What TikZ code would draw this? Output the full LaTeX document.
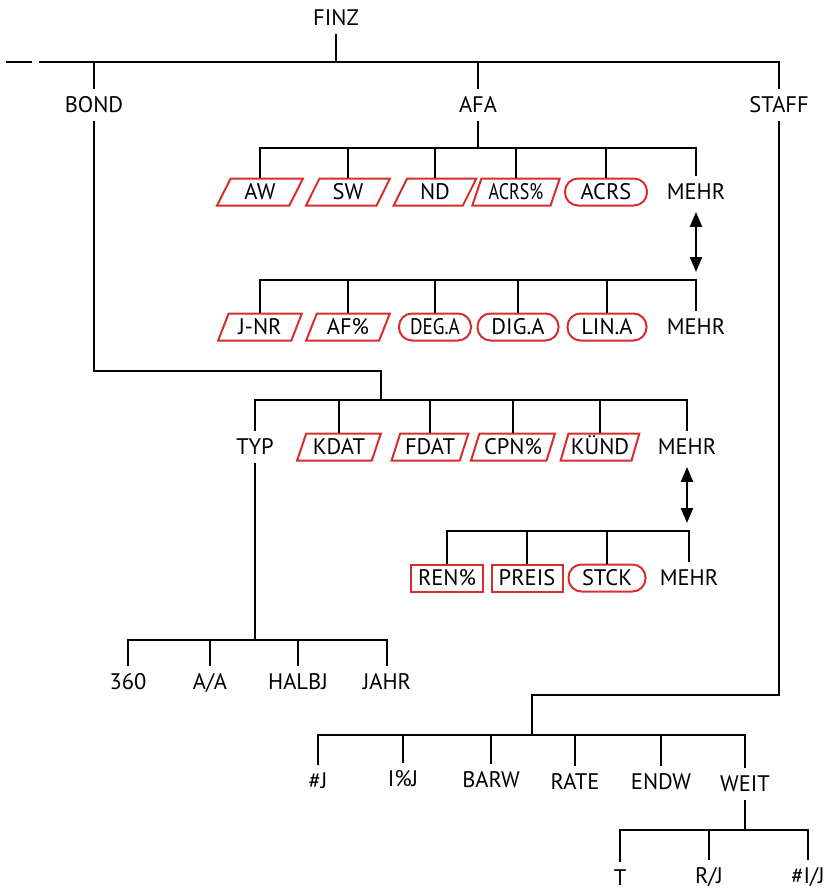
\documentclass[tikz,border=0pt]{standalone}
\usepackage{fontspec}
\setmainfont{PT Sans}
\usetikzlibrary{shapes.geometric,arrows.meta}
\definecolor{boxred}{RGB}{214,45,45}
\begin{document}
\begin{tikzpicture}[x=1pt,y=-1pt,
  txt/.style={font=\fontsize{22.5}{24}\selectfont, text height=15.5pt, text depth=0pt},
  lbl/.style={txt, inner xsep=0pt, inner ysep=8pt},
  boxbase/.style={txt, draw=boxred, line width=2pt, inner sep=0pt, minimum height=27pt},
  para/.style={boxbase, trapezium, trapezium left angle=65, trapezium right angle=115,
     trapezium stretches=true, minimum width=#1},
  rbox/.style={boxbase, rectangle, rounded corners=13pt, minimum width=#1},
  sbox/.style={boxbase, rectangle, minimum width=#1},
  conn/.style={draw=black, line width=2.2pt},
  dbl/.style={conn, {Triangle[width=12pt,length=15pt]}-{Triangle[width=12pt,length=15pt]}}
]
\useasboundingbox (0,0) rectangle (828,892);

% level coordinates
\coordinate (ymain) at (0,62);
\coordinate (y1) at (0,148);
\coordinate (y2) at (0,280);
\coordinate (ybond) at (0,371);
\coordinate (y3) at (0,400);
\coordinate (y4) at (0,531);
\coordinate (ytyp) at (0,640);
\coordinate (ystaff) at (0,695);
\coordinate (y5) at (0,735);
\coordinate (y6) at (0,830);

% top
\node[lbl] (finz) at (336,18) {FINZ};
\coordinate (dashA) at (6,62);
\coordinate (dashB) at (32,62);
\coordinate (mainL) at (39,62);
\node[lbl] (bond) at (94,105) {BOND};
\node[lbl] (afa) at (478,105) {AFA};
\node[lbl] (staff) at (779,105) {STAFF};

\draw[conn] (dashA) -- (dashB);
\draw[conn] (mainL) -- (staff |- ymain) -- (staff);
\draw[conn] (finz) -- (finz |- ymain);
\draw[conn] (bond |- ymain) -- (bond);
\draw[conn] (afa |- ymain) -- (afa);

% AFA menu row 1
\node[para=86pt] (aw) at (260,192) {AW};
\node[para=84pt] (sw) at (348,192) {SW};
\node[para=83pt] (nd) at (435,192) {ND};
\node[para=88pt] (acrsp) at (516,192) {\scalebox{0.8}[1]{ACRS\%}};
\node[rbox=82pt] (acrs) at (606,192) {ACRS};
\node[lbl] (mehrA) at (696,192) {MEHR};
\draw[conn] (afa) -- (afa |- y1);
\draw[conn] (aw) -- (aw |- y1) -- (mehrA |- y1) -- (mehrA);
\foreach \n in {sw,nd,acrsp,acrs} \draw[conn] (\n |- y1) -- (\n);

% AFA menu row 2
\node[para=84pt] (jnr) at (260,327) {J-NR};
\node[para=84pt] (afp) at (348,327) {AF\%};
\node[rbox=72pt] (dega) at (435,327) {\scalebox{0.85}[1]{DEG.A}};
\node[rbox=81pt] (diga) at (518,327) {DIG.A};
\node[rbox=79pt] (lina) at (607,327) {LIN.A};
\node[lbl] (mehrB) at (696,327) {MEHR};
\draw[conn] (jnr) -- (jnr |- y2) -- (mehrB |- y2) -- (mehrB);
\foreach \n in {afp,dega,diga,lina} \draw[conn] (\n |- y2) -- (\n);
\coordinate (arr1) at (696,272);
\draw[dbl, shorten <=4pt] (mehrA) -- (arr1);

% BOND menu
\coordinate (bondturn) at (381,371);
\draw[conn] (bond) -- (bond |- ybond) -- (bondturn) -- (bondturn |- y3);
\node[lbl] (typ) at (255,447) {TYP};
\node[para=84pt] (kdat) at (339,447) {KDAT};
\node[para=77pt] (fdat) at (430,447) {FDAT};
\node[para=84pt] (cpn) at (513,447) {CPN\%};
\node[para=79pt] (kuend) at (600,447) {KÜND};
\node[lbl] (mehrC) at (687,447) {MEHR};
\draw[conn] (typ) -- (typ |- y3) -- (mehrC |- y3) -- (mehrC);
\foreach \n in {kdat,fdat,cpn,kuend} \draw[conn] (\n |- y3) -- (\n);

\node[sbox=72pt] (ren) at (447,578) {REN\%};
\node[sbox=71pt] (preis) at (527,578) {PREIS};
\node[rbox=77pt] (stck) at (607,578) {STCK};
\node[lbl] (mehrD) at (689,578) {MEHR};
\draw[conn] (ren) -- (ren |- y4) -- (mehrD |- y4) -- (mehrD);
\foreach \n in {preis,stck} \draw[conn] (\n |- y4) -- (\n);
\coordinate (arr2) at (687,523);
\draw[dbl, shorten <=4pt] (mehrC) -- (arr2);

% TYP menu
\node[lbl] (t360) at (128,682) {360};
\node[lbl] (aa) at (210,682) {A/A};
\node[lbl] (halbj) at (298,682) {HALBJ};
\node[lbl] (jahr) at (387,682) {JAHR};
\draw[conn] (typ) -- (typ |- ytyp);
\draw[conn] (t360) -- (t360 |- ytyp) -- (jahr |- ytyp) -- (jahr);
\foreach \n in {aa,halbj} \draw[conn] (\n |- ytyp) -- (\n);

% STAFF menu
\coordinate (staffturn) at (532,695);
\draw[conn] (staff) -- (staff |- ystaff) -- (staffturn) -- (staffturn |- y5);
\node[lbl] (nj) at (318,781) {\#J};
\node[lbl] (ipj) at (403,779) {I\%J};
\node[lbl] (barw) at (491,780) {BARW};
\node[lbl] (rate) at (575,782) {RATE};
\node[lbl] (endw) at (661,782) {ENDW};
\node[lbl] (weit) at (745,784) {WEIT};
\draw[conn] (nj) -- (nj |- y5) -- (weit |- y5) -- (weit);
\foreach \n in {ipj,barw,rate,endw} \draw[conn] (\n |- y5) -- (\n);

% WEIT menu
\node[lbl] (tt) at (620,878) {T};
\node[lbl] (rj) at (709,876) {R/J};
\node[lbl] (nij) at (808,876) {\#I/J};
\draw[conn] (weit) -- (weit |- y6);
\draw[conn] (tt) -- (tt |- y6) -- (nij |- y6) -- (nij);
\draw[conn] (rj |- y6) -- (rj);
\end{tikzpicture}
\end{document}
